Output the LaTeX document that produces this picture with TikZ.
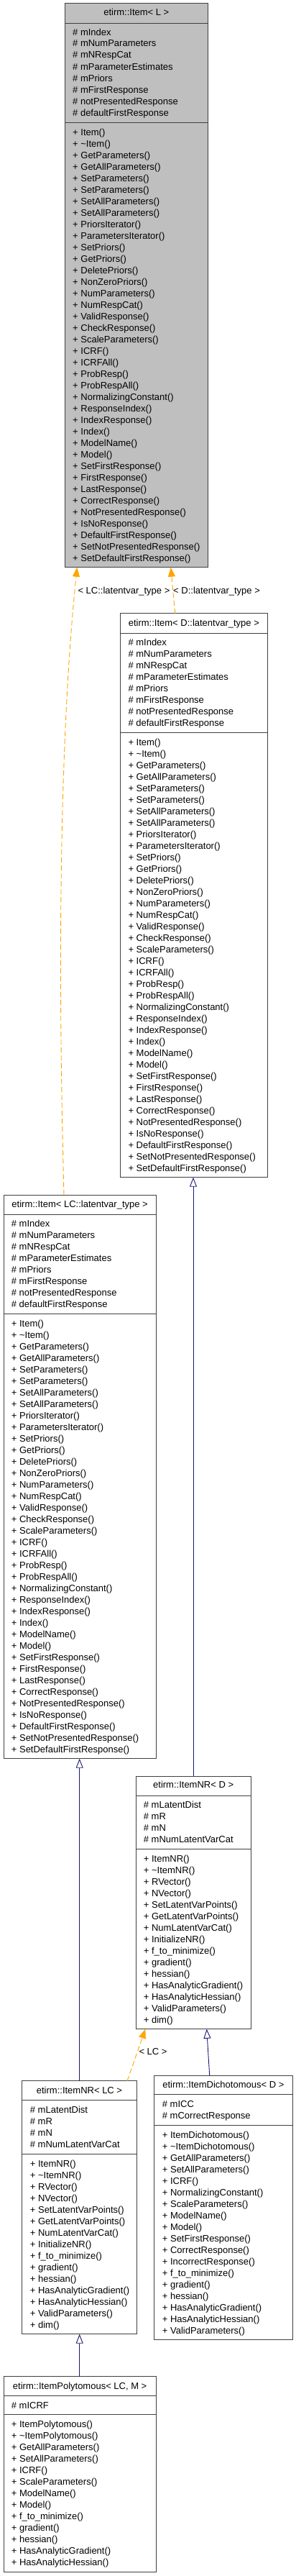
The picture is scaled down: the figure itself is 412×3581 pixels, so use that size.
\documentclass[tikz,border=0pt]{standalone}
\usepackage{fontspec}
\setmainfont{Liberation Sans}
\usetikzlibrary{arrows.meta}
\definecolor{boxgray}{HTML}{BFBFBF}
\definecolor{edgegray}{HTML}{404040}
\definecolor{inhblue}{HTML}{191970}
\definecolor{deporange}{HTML}{FFA500}
\tikzset{
  cbox/.style={draw=edgegray, line width=1pt, inner sep=0pt, outer sep=0pt, anchor=north west, fill=white},
  sepline/.style={draw=edgegray, line width=1pt},
  txt/.style={inner sep=0pt, text height=9.4pt, text depth=0pt, font=\fontsize{13}{16}\selectfont},
  member/.style={txt, anchor=west},
  ctitle/.style={txt, anchor=center},
  inherit/.style={draw=inhblue, line width=0.9pt, -{Triangle[open, width=10pt, length=13pt, fill=white]}},
  depend/.style={draw=deporange, line width=0.9pt, dash pattern=on 7pt off 4pt, -{Triangle[width=10pt, length=13pt, fill=deporange]}},
}
\newcommand\members[5]{%
  \foreach \m [count=\i from 0] in #5 {
    \node[member] (#1\i) at (#2, {#3+16*\i}) {#4 \m};
  }%
}
\def\itemattrs{mIndex, mNumParameters, mNRespCat, mParameterEstimates, mPriors, mFirstResponse, notPresentedResponse, defaultFirstResponse}
\def\itemmeths{Item(), \textasciitilde Item(), GetParameters(), GetAllParameters(), SetParameters(), SetParameters(), SetAllParameters(), SetAllParameters(), PriorsIterator(), ParametersIterator(), SetPriors(), GetPriors(), DeletePriors(), NonZeroPriors(), NumParameters(), NumRespCat(), ValidResponse(), CheckResponse(), ScaleParameters(), ICRF(), ICRFAll(), ProbResp(), ProbRespAll(), NormalizingConstant(), ResponseIndex(), IndexResponse(), Index(), ModelName(), Model(), SetFirstResponse(), FirstResponse(), LastResponse(), CorrectResponse(), NotPresentedResponse(), IsNoResponse(), DefaultFirstResponse(), SetNotPresentedResponse(), SetDefaultFirstResponse()}
\def\nrattrs{mLatentDist, mR, mN, mNumLatentVarCat}
\def\nrmeths{ItemNR(), \textasciitilde ItemNR(), RVector(), NVector(), SetLatentVarPoints(), GetLatentVarPoints(), NumLatentVarCat(), InitializeNR(), f\_to\_minimize(), gradient(), hessian(), HasAnalyticGradient(), HasAnalyticHessian(), ValidParameters(), dim()}
\def\diattrs{mICC, mCorrectResponse}
\def\dimeths{ItemDichotomous(), \textasciitilde ItemDichotomous(), GetAllParameters(), SetAllParameters(), ICRF(), NormalizingConstant(), ScaleParameters(), ModelName(), Model(), SetFirstResponse(), CorrectResponse(), IncorrectResponse(), f\_to\_minimize(), gradient(), hessian(), HasAnalyticGradient(), HasAnalyticHessian(), ValidParameters()}
\def\polyattrs{mICRF}
\def\polymeths{ItemPolytomous(), \textasciitilde ItemPolytomous(), GetAllParameters(), SetAllParameters(), ICRF(), ScaleParameters(), ModelName(), Model(), f\_to\_minimize(), gradient(), hessian(), HasAnalyticGradient(), HasAnalyticHessian()}
\begin{document}
\begin{tikzpicture}[x=1pt, y=-1pt]
\useasboundingbox[fill=white] (0,0) rectangle (412,3581);

% etirm::Item< L >
\node[cbox, fill=boxgray, minimum width=199pt, minimum height=784pt] (L) at (90.3,4.7) {};
\draw[sepline] (90.3,32.3) -- (289.3,32.3) (90.3,170.3) -- (289.3,170.3);
\node[ctitle] (Lt) at (189.8,17.3) {etirm::Item< L >};
\members{La}{101}{44.3}{\#}{\itemattrs}
\members{Lm}{101}{183.3}{+}{\itemmeths}

% etirm::Item< D::latentvar_type >
\node[cbox, minimum width=204.3pt, minimum height=784pt] (D) at (167.7,852.7) {};
\draw[sepline] (167.7,880) -- (372,880) (167.7,1018.7) -- (372,1018.7);
\node[ctitle] (Dt) at (269.85,865.7) {etirm::Item< D::latentvar\_type >};
\members{Da}{178.3}{892.3}{\#}{\itemattrs}
\members{Dm}{178.3}{1031.3}{+}{\itemmeths}

% etirm::Item< LC::latentvar_type >
\node[cbox, minimum width=212.3pt, minimum height=783.7pt] (LC) at (5,1661) {};
\draw[sepline] (5,1688) -- (217.3,1688) (5,1826.7) -- (217.3,1826.7);
\node[ctitle] (LCt) at (111.15,1673.3) {etirm::Item< LC::latentvar\_type >};
\members{LCa}{15.7}{1700.3}{\#}{\itemattrs}
\members{LCm}{15.7}{1839.3}{+}{\itemmeths}

% etirm::ItemNR< D >
\node[cbox, minimum width=160.3pt, minimum height=351.7pt] (NRD) at (189,2469) {};
\draw[sepline] (189,2496) -- (349.3,2496) (189,2570.3) -- (349.3,2570.3);
\node[ctitle] (NRDt) at (269.15,2481) {etirm::ItemNR< D >};
\members{NRDa}{199.7}{2508.3}{\#}{\nrattrs}
\members{NRDm}{199.7}{2583.3}{+}{\nrmeths}

% etirm::ItemNR< LC >
\node[cbox, minimum width=160.4pt, minimum height=352pt] (NRLC) at (30.3,2892.7) {};
\draw[sepline] (30.3,2919.3) -- (190.7,2919.3) (30.3,2994) -- (190.7,2994);
\node[ctitle] (NRLCt) at (110.5,2905.3) {etirm::ItemNR< LC >};
\members{NRLCa}{41.7}{2932.3}{\#}{\nrattrs}
\members{NRLCm}{41.7}{3007.3}{+}{\nrmeths}

% etirm::ItemDichotomous< D >
\node[cbox, minimum width=192.3pt, minimum height=367.7pt] (DI) at (214.7,2885) {};
\draw[sepline] (214.7,2911.3) -- (407,2911.3) (214.7,2954) -- (407,2954);
\node[ctitle] (DIt) at (310.85,2897.3) {etirm::ItemDichotomous< D >};
\members{DIa}{225.7}{2924.3}{\#}{\diattrs}
\members{DIm}{225.7}{2967.3}{+}{\dimeths}

% etirm::ItemPolytomous< LC, M >
\node[cbox, minimum width=212.3pt, minimum height=271.6pt] (P) at (5,3303.7) {};
\draw[sepline] (5,3330.3) -- (217.3,3330.3) (5,3356.3) -- (217.3,3356.3);
\node[ctitle] (Pt) at (111.15,3316.7) {etirm::ItemPolytomous< LC, M >};
\members{Pa}{15.7}{3343.3}{\#}{\polyattrs}
\members{Pm}{15.7}{3369.7}{+}{\polymeths}

% template instantiation (dependency) edges
\draw[depend] ([xshift=84pt]LC.north west) .. controls (82,1400) and (80,1050) .. ([xshift=17pt]L.south west);
\draw[depend] ([xshift=76pt]D.north west) -- ([xshift=147.4pt]L.south west);
\draw[depend] ([xshift=146.8pt]NRLC.north west) -- ([xshift=13.3pt]NRD.south west);
\node[txt, anchor=west] (lab1) at (108.3,820.7) {< LC::latentvar\_type >};
\node[txt, anchor=west] (lab2) at (241,820.7) {< D::latentvar\_type >};
\node[txt, anchor=west] (lab3) at (193.3,2852) {< LC >};

% inheritance edges
\draw[inherit] ([xshift=80pt]NRD.north west) -- ([xshift=101.3pt]D.south west);
\draw[inherit] ([xshift=80.4pt]NRLC.north west) -- ([xshift=105.7pt]LC.south west);
\draw[inherit] ([xshift=77pt]DI.north west) -- ([xshift=98.7pt]NRD.south west);
\draw[inherit] ([xshift=105.7pt]P.north west) -- ([xshift=80.4pt]NRLC.south west);
\end{tikzpicture}
\end{document}
